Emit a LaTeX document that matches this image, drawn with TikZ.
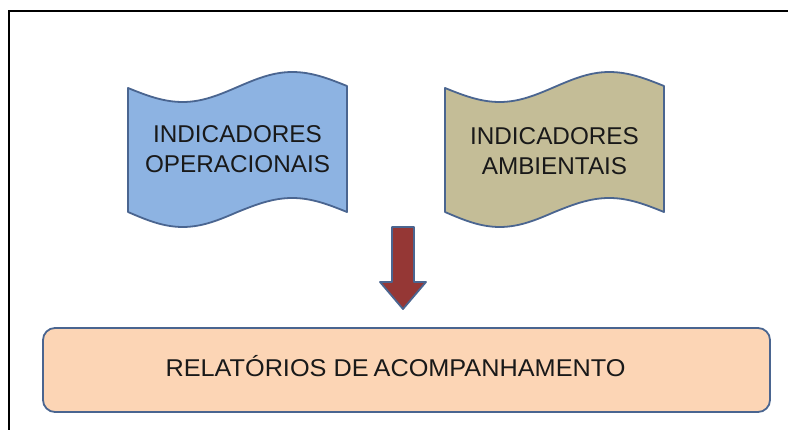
\documentclass[tikz,border=0pt]{standalone}
\usepackage{fontspec}
\setmainfont{Liberation Sans}
\newfontfamily\widesans[FakeStretch=1.04]{Liberation Sans}
\definecolor{tapeblue}{HTML}{8DB3E2}
\definecolor{tapetan}{HTML}{C4BD97}
\definecolor{edgeblue}{HTML}{4A6590}
\definecolor{arrowred}{HTML}{953735}
\definecolor{boxorange}{HTML}{FCD5B5}
\begin{document}
\begin{tikzpicture}[x=1pt,y=-1pt,
  shapeline/.style={draw=edgeblue, line width=1.8pt, line join=round},
  tapelabel/.style={font=\fontsize{24.3}{30.5}\selectfont, align=center, text=black!90, inner sep=0pt},
  reportbox/.style={shapeline, fill=boxorange, rounded corners=12pt, minimum width=727pt, minimum height=84pt, inner sep=0pt}]
\useasboundingbox (0,0) rectangle (788,430);
\fill[white] (0,0) rectangle (788,430);
% frame
\draw[line width=2.5pt] (9,432) -- (9,11) -- (790,11);
% blue punched tape
\draw[shapeline, fill=tapeblue] (128,88) sin (182.75,102) cos (237.5,87) sin (292.25,72) cos (347,86)
  -- (347,212) sin (292.25,198) cos (237.5,212) sin (182.75,227) cos (128,212) -- cycle;
\node[tapelabel] (oper) at (237.5,149) {INDICADORES\\OPERACIONAIS};
% tan punched tape
\draw[shapeline, fill=tapetan] (445,88) sin (499.75,102) cos (554.5,87) sin (609.25,72) cos (664,86)
  -- (664,212) sin (609.25,198) cos (554.5,212) sin (499.75,227) cos (445,212) -- cycle;
\node[tapelabel] (amb) at (554.5,151) {INDICADORES\\AMBIENTAIS};
% block arrow
\draw[shapeline, fill=arrowred] (392,227) -- (414,227) -- (414,282) -- (426,282) -- (403,309)
  -- (380,282) -- (392,282) -- cycle;
% report box
\node[reportbox] (rel) at (406.5,370) {};
\node[tapelabel, font=\widesans\fontsize{24.3}{30}\selectfont, anchor=base] (reltext) at (395.5,377) {RELATÓRIOS DE\hspace{-2pt} ACOMPANHAMENTO};
\end{tikzpicture}
\end{document}
